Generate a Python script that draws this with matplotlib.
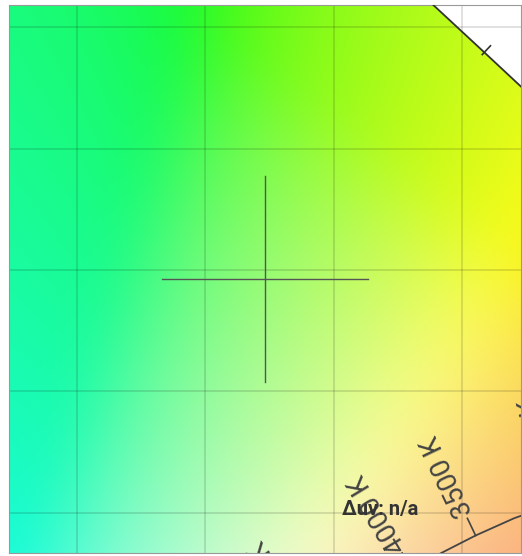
import numpy as np
import matplotlib
matplotlib.use("Agg")
import matplotlib.pyplot as plt
from matplotlib.patches import Polygon

# CIE 1931 2-degree spectral locus (chromaticity x, y)
wavelengths = [380, 400, 420, 440, 460, 470, 480, 490, 500, 510, 520, 530,
               540, 550, 555, 560, 565, 570, 575, 580, 590, 600, 620, 640, 700]
locus_x = [0.1741, 0.1733, 0.1714, 0.1644, 0.1440, 0.1241, 0.0913, 0.0454,
           0.0082, 0.0139, 0.0743, 0.1547, 0.2296, 0.3016, 0.3373, 0.3731,
           0.4087, 0.4441, 0.4788, 0.5125, 0.5752, 0.6270, 0.6915, 0.7190, 0.7347]
locus_y = [0.0050, 0.0048, 0.0051, 0.0109, 0.0297, 0.0578, 0.1327, 0.2950,
           0.5384, 0.7502, 0.8338, 0.8059, 0.7543, 0.6923, 0.6589, 0.6245,
           0.5896, 0.5547, 0.5202, 0.4866, 0.4242, 0.3725, 0.3083, 0.2809, 0.2653]
tick_wavelengths = [555, 560, 565, 570, 575]

# Planckian locus
cct_k = [2000, 2500, 3000, 3250, 3500, 3750, 4000, 4500, 5000, 5500, 6000, 6500]
planck_x = [0.5267, 0.4770, 0.4369, 0.4203, 0.4053, 0.3921, 0.3805, 0.3608,
            0.3451, 0.3325, 0.3221, 0.3135]
planck_y = [0.4133, 0.4137, 0.4041, 0.3978, 0.3907, 0.3836, 0.3768, 0.3636,
            0.3516, 0.3411, 0.3318, 0.3237]
labelled_cct = [3000, 3500, 4000, 5000]
label_texts = ["3000 K", "3500 K", "4000 K", "5000 K"]

# Selected point (crosshair) and its readout
point_x, point_y = 0.3232, 0.4963
readout = "Δuv: n/a"

W, H, DPI = 522, 556, 100
fig = plt.figure(figsize=(W / DPI, H / DPI), dpi=DPI)
fig.patch.set_facecolor("white")
ax = fig.add_axes([9 / W, 3 / H, 512 / W, 548 / H])

half_w, half_h = 0.0998, 0.1128
x0, x1 = point_x - half_w, point_x + half_w
y0, y1 = point_y - half_h, point_y + half_h

# chromaticity colour field (computed on an extended grid, then softened)
step = 0.0008
pad = 0.04
xs = np.arange(x0 - pad, x1 + pad + step, step)
ys = np.arange(y0 - pad, y1 + pad + step, step)
XX, YY = np.meshgrid(xs, ys)
XYZ = np.stack([XX / YY, np.ones_like(XX), (1 - XX - YY) / YY], axis=-1)
M = np.array([[3.2406, -1.5372, -0.4986],
              [-0.9689, 1.8758, 0.0415],
              [0.0557, -0.2040, 1.0570]])
lin = XYZ @ M.T
clip = np.clip(lin, 0, None)
clip = clip / clip.max(axis=-1, keepdims=True)
addw = lin - np.minimum(lin.min(axis=-1, keepdims=True), 0)
addw = addw / addw.max(axis=-1, keepdims=True)
lin2 = 0.96 * (0.4 * clip + 0.6 * addw) + 0.01

def blur1d(a, sigma, axis):
    r = int(3 * sigma)
    k = np.exp(-0.5 * (np.arange(-r, r + 1) / sigma) ** 2)
    k /= k.sum()
    padw = [(0, 0)] * a.ndim
    padw[axis] = (r, r)
    ap = np.pad(a, padw, mode="edge")
    out = np.zeros_like(a)
    n = a.shape[axis]
    for i, kv in enumerate(k):
        sl = [slice(None)] * a.ndim
        sl[axis] = slice(i, i + n)
        out += kv * ap[tuple(sl)]
    return out

sig = 14
lin2 = blur1d(blur1d(lin2, sig, 0), sig, 1)
rgb = np.where(lin2 <= 0.0031308, 12.92 * lin2,
               1.055 * np.power(np.clip(lin2, 0, None), 1 / 2.4) - 0.055)
rgb = np.clip(rgb, 0, 1)
ext = [xs[0] - step / 2, xs[-1] + step / 2, ys[0] - step / 2, ys[-1] + step / 2]
im = ax.imshow(rgb, extent=ext, origin="lower", aspect="auto",
               interpolation="bilinear", zorder=0)
ax.set_xlim(x0, x1)
ax.set_ylim(y0, y1)
poly = Polygon(np.column_stack([locus_x, locus_y]), closed=True,
               facecolor="none", edgecolor="none", transform=ax.transData)
ax.add_patch(poly)
im.set_clip_path(poly)

# grid
ax.set_xticks([0.25, 0.30, 0.35, 0.40])
ax.set_yticks([0.40, 0.45, 0.50, 0.55, 0.60])
ax.grid(True, color="black", alpha=0.12, lw=1.4)
ax.tick_params(length=0, labelbottom=False, labelleft=False)
for s in ax.spines.values():
    s.set_color("#999999")
    s.set_linewidth(0.8)

# spectral locus
ax.plot(locus_x + [locus_x[0]], locus_y + [locus_y[0]], color="#333333", lw=1.3, zorder=3)

# planckian locus
ax.plot(planck_x, planck_y, color="#444444", lw=1.3, zorder=3)

# crosshair
ax.plot([point_x - 0.0401, point_x + 0.0401], [point_y, point_y], color="#555555", lw=1.0, zorder=4)
ax.plot([point_x, point_x], [point_y - 0.0422, point_y + 0.0422], color="#555555", lw=1.0, zorder=4)

td = ax.transData
inv = td.inverted()

def disp(x, y):
    return np.array(td.transform((x, y)))

# isotherm ticks and labels (perpendicular on screen)
for T, txt in zip(labelled_cct, label_texts):
    i = cct_k.index(T)
    p = disp(planck_x[i], planck_y[i])
    a = disp(planck_x[i - 1], planck_y[i - 1])
    b = disp(planck_x[i + 1], planck_y[i + 1])
    t = a - b
    t = t / np.hypot(*t)
    n = np.array([-t[1], t[0]])
    if n[1] < 0:
        n = -n
    q = p + 19 * n
    pd, qd = inv.transform(p), inv.transform(q)
    ax.plot([pd[0], qd[0]], [pd[1], qd[1]], color="#444444", lw=1.2, zorder=3)
    anc = inv.transform(p + 22 * n)
    ang = np.degrees(np.arctan2(n[1], n[0]))
    ax.text(anc[0], anc[1], txt, rotation=ang, rotation_mode="anchor",
            ha="left", va="center", fontsize=20, family=["Roboto", "DejaVu Sans"],
            color="#444444", clip_on=True, zorder=5)

# spectral wavelength ticks
for wl in tick_wavelengths:
    i = wavelengths.index(wl)
    p = disp(locus_x[i], locus_y[i])
    a = disp(locus_x[i - 1], locus_y[i - 1])
    b = disp(locus_x[i + 1], locus_y[i + 1])
    t = b - a
    t = t / np.hypot(*t)
    n = np.array([t[1], -t[0]])
    if n[1] < 0:
        n = -n
    s0, s1 = inv.transform(p - 3 * n), inv.transform(p + 9 * n)
    ax.plot([s0[0], s1[0]], [s0[1], s1[1]], color="#333333", lw=1.2, zorder=3)

ax.text(0.7246, 0.0785, readout, transform=ax.transAxes, ha="center", va="center",
        fontsize=14.5, fontweight="bold", family=["Roboto", "DejaVu Sans"],
        color="#333333", zorder=6)

fig.savefig("out.png", dpi=DPI)
